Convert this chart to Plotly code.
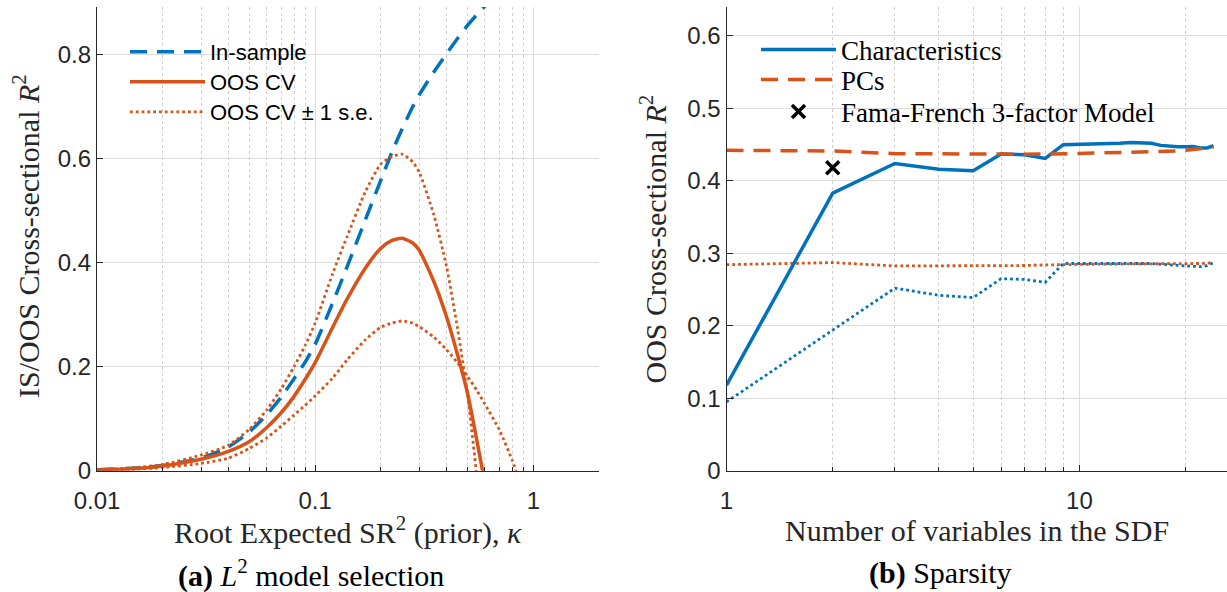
import math
import plotly.graph_objects as go

# ---------------- Panel (a): L2 model selection ----------------
kappa = [0.01, 0.015, 0.02, 0.03, 0.04, 0.05, 0.06, 0.07, 0.08, 0.09, 0.1, 0.12, 0.14,
         0.17, 0.2, 0.225, 0.25, 0.28, 0.3, 0.35, 0.4, 0.45, 0.5, 0.55, 0.6, 0.7, 0.8, 0.9]
in_sample = [0.002, 0.005, 0.010, 0.024, 0.046, 0.075, 0.108, 0.142, 0.177, 0.209, 0.243, 0.322, 0.392,
             0.483, 0.559, 0.613, 0.657, 0.700, 0.723, 0.767, 0.802, 0.832, 0.857, 0.877, 0.894, 0.922, 0.943, 0.958]
oos_cv = [0.001, 0.004, 0.009, 0.022, 0.037, 0.056, 0.083, 0.112, 0.143, 0.176, 0.208, 0.275, 0.330,
          0.390, 0.428, 0.443, 0.447, 0.438, 0.424, 0.364, 0.296, 0.222, 0.148, 0.060, -0.025, -0.200, -0.400, -0.600]
oos_cv_upper = [0.002, 0.006, 0.012, 0.030, 0.049, 0.080, 0.117, 0.158, 0.200, 0.241, 0.284, 0.378, 0.450,
                0.537, 0.590, 0.604, 0.609, 0.594, 0.574, 0.492, 0.393, 0.272, 0.144, -0.010, -0.200, -0.500, -0.800, -1.100]
oos_cv_lower = [0.001, 0.003, 0.006, 0.014, 0.024, 0.043, 0.063, 0.086, 0.107, 0.126, 0.144, 0.178, 0.213,
                0.252, 0.276, 0.284, 0.288, 0.284, 0.277, 0.257, 0.233, 0.207, 0.181, 0.155, 0.128, 0.078, 0.020, -0.040]

# ---------------- Panel (b): Sparsity ----------------
n_vars = list(range(1, 25))
characteristics = [0.118, 0.383, 0.424, 0.416, 0.414, 0.437, 0.436, 0.431, 0.450, 0.4505, 0.451, 0.451,
                   0.452, 0.453, 0.452, 0.452, 0.449, 0.4477, 0.447, 0.447, 0.4475, 0.4455, 0.4455, 0.4486]
characteristics_lower = [0.095, 0.194, 0.252, 0.242, 0.239, 0.265, 0.264, 0.260, 0.286, 0.286, 0.286, 0.286,
                         0.287, 0.287, 0.287, 0.286, 0.285, 0.284, 0.283, 0.2826, 0.282, 0.2817, 0.283, 0.2872]
pcs = [0.4422, 0.4413, 0.4376, 0.437, 0.4367, 0.4367, 0.4368, 0.437, 0.4378, 0.4385, 0.4387, 0.4389,
       0.4391, 0.4394, 0.4397, 0.440, 0.4405, 0.441, 0.4415, 0.4422, 0.443, 0.444, 0.4455, 0.4468]
pcs_lower = [0.2844, 0.2872, 0.2826, 0.2826, 0.2826, 0.2828, 0.2832, 0.284, 0.2846, 0.2853, 0.2853, 0.2853,
             0.2853, 0.2853, 0.2853, 0.2853, 0.2853, 0.2853, 0.2855, 0.2856, 0.2858, 0.286, 0.2865, 0.287]
ff3_x = [2]
ff3_y = [0.418]

BLUE = "#0072BD"
ORANGE = "#D95319"
AXC = "#262626"
W, H = 1227, 592
DASH = "17px,10px"
DOT = "2.8px,3px"
DOTW = 2.8

fig = go.Figure()

# Left panel traces
fig.add_trace(go.Scatter(x=kappa, y=in_sample, mode="lines", name="In-sample",
                         line=dict(color=BLUE, width=3.5, dash=DASH, shape="spline", smoothing=0.6),
                         xaxis="x", yaxis="y", legend="legend"))
fig.add_trace(go.Scatter(x=kappa, y=oos_cv, mode="lines", name="OOS CV",
                         line=dict(color=ORANGE, width=3.5, shape="spline", smoothing=0.6),
                         xaxis="x", yaxis="y", legend="legend2"))
fig.add_trace(go.Scatter(x=kappa, y=oos_cv_upper, mode="lines", name="OOS CV ± 1 s.e.",
                         line=dict(color=ORANGE, width=DOTW, dash=DOT, shape="spline", smoothing=0.6),
                         xaxis="x", yaxis="y", legend="legend3"))
fig.add_trace(go.Scatter(x=kappa, y=oos_cv_lower, mode="lines", showlegend=False,
                         line=dict(color=ORANGE, width=DOTW, dash=DOT, shape="spline", smoothing=0.6),
                         xaxis="x", yaxis="y"))

# Right panel traces
fig.add_trace(go.Scatter(x=n_vars, y=characteristics_lower, mode="lines", showlegend=False,
                         line=dict(color=BLUE, width=DOTW, dash=DOT),
                         xaxis="x2", yaxis="y2"))
fig.add_trace(go.Scatter(x=n_vars, y=pcs_lower, mode="lines", showlegend=False,
                         line=dict(color=ORANGE, width=DOTW, dash=DOT),
                         xaxis="x2", yaxis="y2"))
fig.add_trace(go.Scatter(x=n_vars, y=characteristics, mode="lines", name="Characteristics",
                         line=dict(color=BLUE, width=3.5),
                         xaxis="x2", yaxis="y2", legend="legend4"))
fig.add_trace(go.Scatter(x=n_vars, y=pcs, mode="lines", name="PCs",
                         line=dict(color=ORANGE, width=3.5, dash=DASH),
                         xaxis="x2", yaxis="y2", legend="legend5"))
fig.add_trace(go.Scatter(x=ff3_x, y=ff3_y, mode="markers", name="Fama-French 3-factor Model",
                         marker=dict(symbol="x-thin", size=13, color="black",
                                     line=dict(color="black", width=3.5)),
                         xaxis="x2", yaxis="y2", legend="legend6"))

tickfont = dict(family="Liberation Sans, Arial, sans-serif", size=24, color=AXC)
serif = "Liberation Serif, Times New Roman, serif"

y_dom = [1 - 470.7 / H, 1 - 7 / H]
common_x = dict(type="log", dtick=1, ticks="inside", ticklen=6, tickwidth=1, tickcolor=AXC,
                showline=True, linecolor=AXC, linewidth=1.2, showgrid=True, gridcolor="#dcdcdc",
                gridwidth=1, zeroline=False, tickfont=tickfont, automargin=False,
                ticklabelstandoff=8,
                minor=dict(dtick="D1", ticks="inside", ticklen=4, tickcolor=AXC, showgrid=True,
                           gridcolor="#cfcfcf", griddash="dot", gridwidth=1))
common_y = dict(ticks="inside", ticklen=6, tickwidth=1, tickcolor=AXC, showline=True, linecolor=AXC,
                linewidth=1.2, showgrid=True, gridcolor="#dcdcdc", gridwidth=1, zeroline=False,
                tickfont=tickfont, automargin=False)


def leg(x_px, y_px, font):
    return dict(x=x_px / W, y=1 - y_px / H, xanchor="left", yanchor="middle",
                bgcolor="rgba(0,0,0,0)", font=font, itemwidth=75, borderwidth=0)


sans_leg = dict(family="Liberation Sans, Arial, sans-serif", size=22, color="black")
serif_leg = dict(family=serif, size=27, color="black")

fig.update_layout(
    width=W, height=H,
    margin=dict(l=0, r=0, t=0, b=0, autoexpand=False),
    paper_bgcolor="white", plot_bgcolor="white",
    xaxis=dict(common_x, domain=[97 / W, 599 / W], range=[-2, math.log10(2)], anchor="y"),
    yaxis=dict(common_y, domain=y_dom, range=[0, 0.892], dtick=0.2, anchor="x"),
    xaxis2=dict(common_x, domain=[726.5 / W, 1.0], range=[0, math.log10(26.2)], anchor="y2"),
    yaxis2=dict(common_y, domain=y_dom, range=[0, 0.64], dtick=0.1, anchor="x2"),
    legend=leg(125, 52, sans_leg),
    legend2=leg(125, 82, sans_leg),
    legend3=leg(125, 112, sans_leg),
    legend4=leg(756, 50, serif_leg),
    legend5=leg(756, 80, serif_leg),
    legend6=leg(756, 112, serif_leg),
    showlegend=True,
)

ann = []
ann.append(dict(text="IS/OOS Cross-sectional <i>R</i><sup>2</sup>", x=26 / W, y=1 - 236 / H,
                textangle=-90, font=dict(family=serif, size=30, color=AXC)))
ann.append(dict(text="OOS Cross-sectional <i>R</i><sup>2</sup>", x=654 / W, y=1 - 239.5 / H,
                textangle=-90, font=dict(family=serif, size=30, color=AXC)))
ann.append(dict(text="Root Expected SR<sup>2</sup> (prior), <i>κ</i>", x=348 / W, y=1 - 530 / H,
                font=dict(family=serif, size=30, color=AXC)))
ann.append(dict(text="Number of variables in the SDF", x=977 / W, y=1 - 530 / H,
                font=dict(family=serif, size=30, color=AXC)))
ann.append(dict(text="<b>(a)</b> <i>L</i><sup>2</sup> model selection", x=311 / W, y=1 - 573 / H,
                font=dict(family=serif, size=30, color="black")))
ann.append(dict(text="<b>(b)</b> Sparsity", x=940 / W, y=1 - 573 / H,
                font=dict(family=serif, size=30, color="black")))
for a in ann:
    a.update(xref="paper", yref="paper", showarrow=False, xanchor="center", yanchor="middle")
fig.update_layout(annotations=ann)

fig.write_html("out.html", config={"displayModeBar": False},
               post_script="document.body.style.margin='0';")
